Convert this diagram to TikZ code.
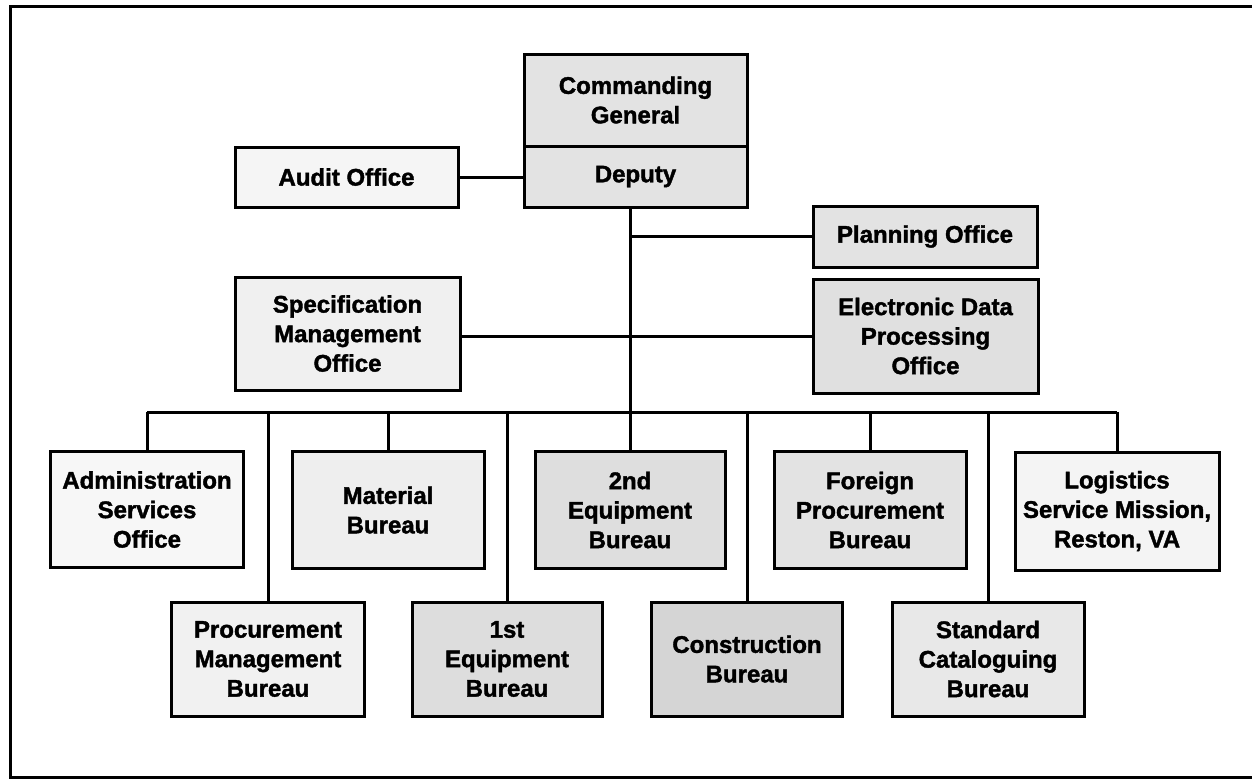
\documentclass[tikz,border=0pt]{standalone}
\usepackage{fontspec}
\setmainfont{Liberation Sans}[BoldFeatures={FakeBold=1.6}]
\begin{document}
\begin{tikzpicture}[x=1pt,y=-1pt,
  line width=3pt,
  unit/.style={draw=black, line width=3pt, align=center, inner sep=2pt,
    font=\fontsize{24}{29.5}\selectfont\bfseries},
  conn/.style={draw=black, line width=3pt}]
\useasboundingbox (0,0) rectangle (1252,780);
\fill[white] (0,0) rectangle (1252,780);
% outer frame (open on the right)
\draw[line width=3pt] (1260,6) -- (10,6) -- (10,777) -- (1260,777);

% head of the organisation
\node[unit, fill=gray!22, minimum width=223, minimum height=92] (cg) at (635.5,100) {Commanding\\General};
\node[unit, fill=gray!22, minimum width=223, minimum height=61] (deputy) at (635.5,176.5) {Deputy};

% staff offices
\node[unit, fill=gray!8,  minimum width=223, minimum height=60] (audit) at (346.5,177) {Audit Office};
\node[unit, fill=gray!22, minimum width=224, minimum height=61] (planning) at (925,236.5) {Planning Office};
\node[unit, fill=gray!12, minimum width=225, minimum height=113] (spec) at (347.5,333.5) {Specification\\Management\\Office};
\node[unit, fill=gray!24, minimum width=225, minimum height=114] (edp) at (925.5,336) {Electronic Data\\Processing\\Office};

% bureaus, upper row
\node[unit, fill=gray!6,  minimum width=193, minimum height=116] (admin) at (147,509.5) {Administration\\Services\\Office};
\node[unit, fill=gray!13, minimum width=192, minimum height=117] (material) at (388,510) {Material\\Bureau};
\node[unit, fill=gray!26, minimum width=190, minimum height=117] (eq2) at (630,510) {2nd\\Equipment\\Bureau};
\node[unit, fill=gray!22, minimum width=192, minimum height=117] (foreign) at (870,510) {Foreign\\Procurement\\Bureau};
\node[unit, fill=gray!9,  minimum width=204, minimum height=118] (logistics) at (1117,511) {Logistics\\Service Mission,\\Reston, VA};

% bureaus, lower row
\node[unit, fill=gray!11, minimum width=193, minimum height=114] (procmgmt) at (268,659) {Procurement\\Management\\Bureau};
\node[unit, fill=gray!27, minimum width=190, minimum height=114] (eq1) at (507,659) {1st\\Equipment\\Bureau};
\node[unit, fill=gray!33, minimum width=191, minimum height=114] (constr) at (747,659) {Construction\\Bureau};
\node[unit, fill=gray!18, minimum width=192, minimum height=114] (standard) at (988,659) {Standard\\Cataloguing\\Bureau};

% connector points
\coordinate (trunk) at (630,207);
\coordinate (bus) at (630,412);

% connectors
\draw[conn] (audit.east) -- (audit.east -| deputy.west);
\draw[conn] (trunk) -- (bus);
\draw[conn] (planning.west -| trunk) -- (planning.west);
\draw[conn] (spec.east |- edp.west) -- (edp.west);
\draw[conn] (admin.north |- bus) -- (logistics.north |- bus);
\foreach \b in {admin,material,eq2,foreign,logistics,procmgmt,eq1,constr,standard}
  \draw[conn] (\b.north |- bus) -- (\b.north);
\end{tikzpicture}
\end{document}
